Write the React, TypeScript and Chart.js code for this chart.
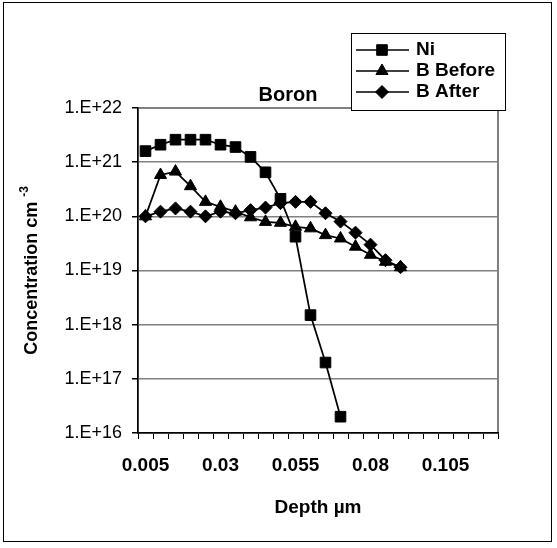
import React, { useEffect, useRef } from 'react';
import { Chart, registerables } from 'chart.js';

Chart.register(...registerables);

// ---- data ----
const depthLabels = [
  '0.005', '0.01', '0.015', '0.02', '0.025', '0.03', '0.035', '0.04',
  '0.045', '0.05', '0.055', '0.06', '0.065', '0.07', '0.075', '0.08',
  '0.085', '0.09', '0.095', '0.1', '0.105', '0.11', '0.115', '0.12',
];
const niValues = [
  1.6e21, 2.1e21, 2.6e21, 2.6e21, 2.6e21, 2.1e21, 1.9e21, 1.25e21,
  6.5e20, 2.1e20, 4.2e19, 1.5e18, 2e17, 2e16,
];
const bBeforeValues = [
  1e20, 5.8e20, 6.7e20, 3.6e20, 1.85e20, 1.5e20, 1.22e20, 9.6e19,
  7.9e19, 7.6e19, 6.4e19, 6e19, 4.5e19, 3.9e19, 2.75e19, 1.95e19,
  1.45e19, 1.15e19,
];
const bAfterValues = [
  1e20, 1.22e20, 1.4e20, 1.22e20, 1e20, 1.22e20, 1.14e20, 1.3e20,
  1.45e20, 1.75e20, 1.85e20, 1.85e20, 1.14e20, 8e19, 5e19, 3e19,
  1.55e19, 1.15e19,
];
const decadeTicks = [1e16, 1e17, 1e18, 1e19, 1e20, 1e21, 1e22];
const seriesNames = ['Ni', 'B Before', 'B After'];
const chartTitle = 'Boron';
const xTitle = 'Depth µm';
const yTitleMain = 'Concentration cm ';
const yTitleSup = '-3';
const xLabelEvery = 5;

const FONT = "'Liberation Sans', Arial, Helvetica, sans-serif";

function drawMarker(ctx: CanvasRenderingContext2D, style: string, x: number, y: number, r: number) {
  ctx.beginPath();
  if (style === 'rect') {
    const s = r * Math.SQRT1_2;
    ctx.rect(x - s, y - s, 2 * s, 2 * s);
  } else if (style === 'triangle') {
    let rad = 0;
    ctx.moveTo(x + Math.sin(rad) * r, y - Math.cos(rad) * r);
    rad += (2 * Math.PI) / 3;
    ctx.lineTo(x + Math.sin(rad) * r, y - Math.cos(rad) * r);
    rad += (2 * Math.PI) / 3;
    ctx.lineTo(x + Math.sin(rad) * r, y - Math.cos(rad) * r);
    ctx.closePath();
  } else {
    ctx.moveTo(x - r, y);
    ctx.lineTo(x, y - r);
    ctx.lineTo(x + r, y);
    ctx.lineTo(x, y + r);
    ctx.closePath();
  }
  ctx.fill();
  ctx.stroke();
}

const framePlugin = {
  id: 'frames',
  beforeDraw(chart: any) {
    const { ctx, chartArea } = chart;
    ctx.save();
    ctx.fillStyle = '#ffffff';
    ctx.fillRect(0, 0, chart.width, chart.height);
    ctx.strokeStyle = '#000000';
    ctx.lineWidth = 1;
    ctx.strokeRect(3.5, 2.5, 548, 539);
    ctx.strokeStyle = '#808080';
    ctx.lineWidth = 2;
    ctx.strokeRect(chartArea.left, chartArea.top, chartArea.right - chartArea.left, chartArea.bottom - chartArea.top);
    ctx.restore();
  },
  afterDraw(chart: any) {
    const { ctx, chartArea } = chart;
    ctx.save();
    // y-axis title with superscript
    const yc = (chartArea.top + chartArea.bottom) / 2;
    ctx.translate(32, yc);
    ctx.rotate(-Math.PI / 2);
    ctx.fillStyle = '#000';
    ctx.textBaseline = 'middle';
    ctx.textAlign = 'left';
    ctx.font = `bold 18px ${FONT}`;
    const w1 = ctx.measureText(yTitleMain).width;
    ctx.font = `bold 12px ${FONT}`;
    const w2 = ctx.measureText(yTitleSup).width;
    const start = -(w1 + w2) / 2;
    ctx.font = `bold 18px ${FONT}`;
    ctx.fillText(yTitleMain, start, 0);
    ctx.font = `bold 12px ${FONT}`;
    ctx.fillText(yTitleSup, start + w1, -7);
    ctx.restore();

    // chart title
    ctx.save();
    ctx.fillStyle = '#000';
    ctx.font = `bold 20px ${FONT}`;
    ctx.textAlign = 'center';
    ctx.textBaseline = 'middle';
    ctx.fillText(chartTitle, 288, 95);
    ctx.restore();

    // legend box
    ctx.save();
    const bx = 351.5, by = 33.5, bw = 154, bh = 77;
    ctx.fillStyle = '#ffffff';
    ctx.fillRect(bx, by, bw, bh);
    ctx.strokeStyle = '#000';
    ctx.lineWidth = 1;
    ctx.strokeRect(bx, by, bw, bh);
    const rows = [50, 71, 92];
    chart.data.datasets.forEach((ds: any, i: number) => {
      const y = rows[i];
      ctx.strokeStyle = ds.borderColor;
      ctx.lineWidth = 1.5;
      ctx.beginPath();
      ctx.moveTo(356, y);
      ctx.lineTo(409, y);
      ctx.stroke();
      ctx.fillStyle = ds.pointBackgroundColor;
      ctx.lineWidth = 1;
      drawMarker(ctx, ds.pointStyle, 382, y, ds.pointRadius);
      ctx.fillStyle = '#000';
      ctx.font = `bold 19px ${FONT}`;
      ctx.textAlign = 'left';
      ctx.textBaseline = 'middle';
      ctx.fillText(ds.label, 416, y);
    });
    ctx.restore();
  },
};

export default function App() {
  const canvasRef = useRef<HTMLCanvasElement | null>(null);

  useEffect(() => {
    const canvas = canvasRef.current;
    if (!canvas) return;
    const common = {
      borderColor: '#000000',
      backgroundColor: '#000000',
      pointBackgroundColor: '#000000',
      pointBorderColor: '#000000',
      borderWidth: 1.75,
      pointBorderWidth: 1,
      fill: false,
      tension: 0,
    };
    const chart = new Chart(canvas, {
      type: 'line',
      data: {
        labels: depthLabels,
        datasets: [
          { ...common, label: seriesNames[0], data: niValues, pointStyle: 'rect', pointRadius: 7.5 },
          { ...common, label: seriesNames[1], data: bBeforeValues, pointStyle: 'triangle', pointRadius: 7 },
          { ...common, label: seriesNames[2], data: bAfterValues, pointStyle: 'rectRot', pointRadius: 6.5 },
        ],
      },
      options: {
        responsive: false,
        animation: false,
        devicePixelRatio: 1,
        layout: { padding: { top: 108, right: 59, left: 0, bottom: 0 } },
        plugins: {
          legend: { display: false },
          title: { display: false },
          tooltip: { enabled: false },
        },
        scales: {
          x: {
            type: 'category',
            offset: true,
            grid: {
              offset: true,
              drawOnChartArea: false,
              drawTicks: true,
              tickLength: 6,
              tickColor: '#000000',
              color: '#000000',
            },
            border: { display: true, color: '#000000', width: 1.5 },
            ticks: {
              autoSkip: false,
              maxRotation: 0,
              minRotation: 0,
              padding: 15,
              color: '#000000',
              font: { family: FONT, size: 19, weight: 'bold' },
              callback: (_v: any, i: number) => (i % xLabelEvery === 0 ? depthLabels[i] : ''),
            },
            title: {
              display: true,
              text: xTitle,
              color: '#000000',
              font: { family: FONT, size: 19, weight: 'bold' },
              padding: { top: 0, bottom: 29 },
            },
            afterFit: (scale: any) => {
              scale.height = 115;
            },
          },
          y: {
            type: 'logarithmic',
            min: 1e16,
            max: 1e22,
            grid: {
              color: '#808080',
              lineWidth: 1.5,
              drawTicks: true,
              tickLength: 6,
              tickColor: '#000000',
            },
            border: { display: true, color: '#000000', width: 1.5 },
            ticks: {
              padding: 10,
              color: '#000000',
              font: { family: FONT, size: 18 },
              callback: (v: any) => '1.E+' + Math.round(Math.log10(Number(v))),
            },
            afterBuildTicks: (scale: any) => {
              scale.ticks = decadeTicks.map((value) => ({ value }));
            },
            afterFit: (scale: any) => {
              scale.width = 138;
            },
          },
        },
      },
      plugins: [framePlugin],
    });
    return () => chart.destroy();
  }, []);

  return (
    <div style={{ position: 'absolute', left: 0, top: 0, width: 557, height: 548, background: '#fff' }}>
      <canvas ref={canvasRef} width={557} height={548} style={{ display: 'block' }} />
    </div>
  );
}
